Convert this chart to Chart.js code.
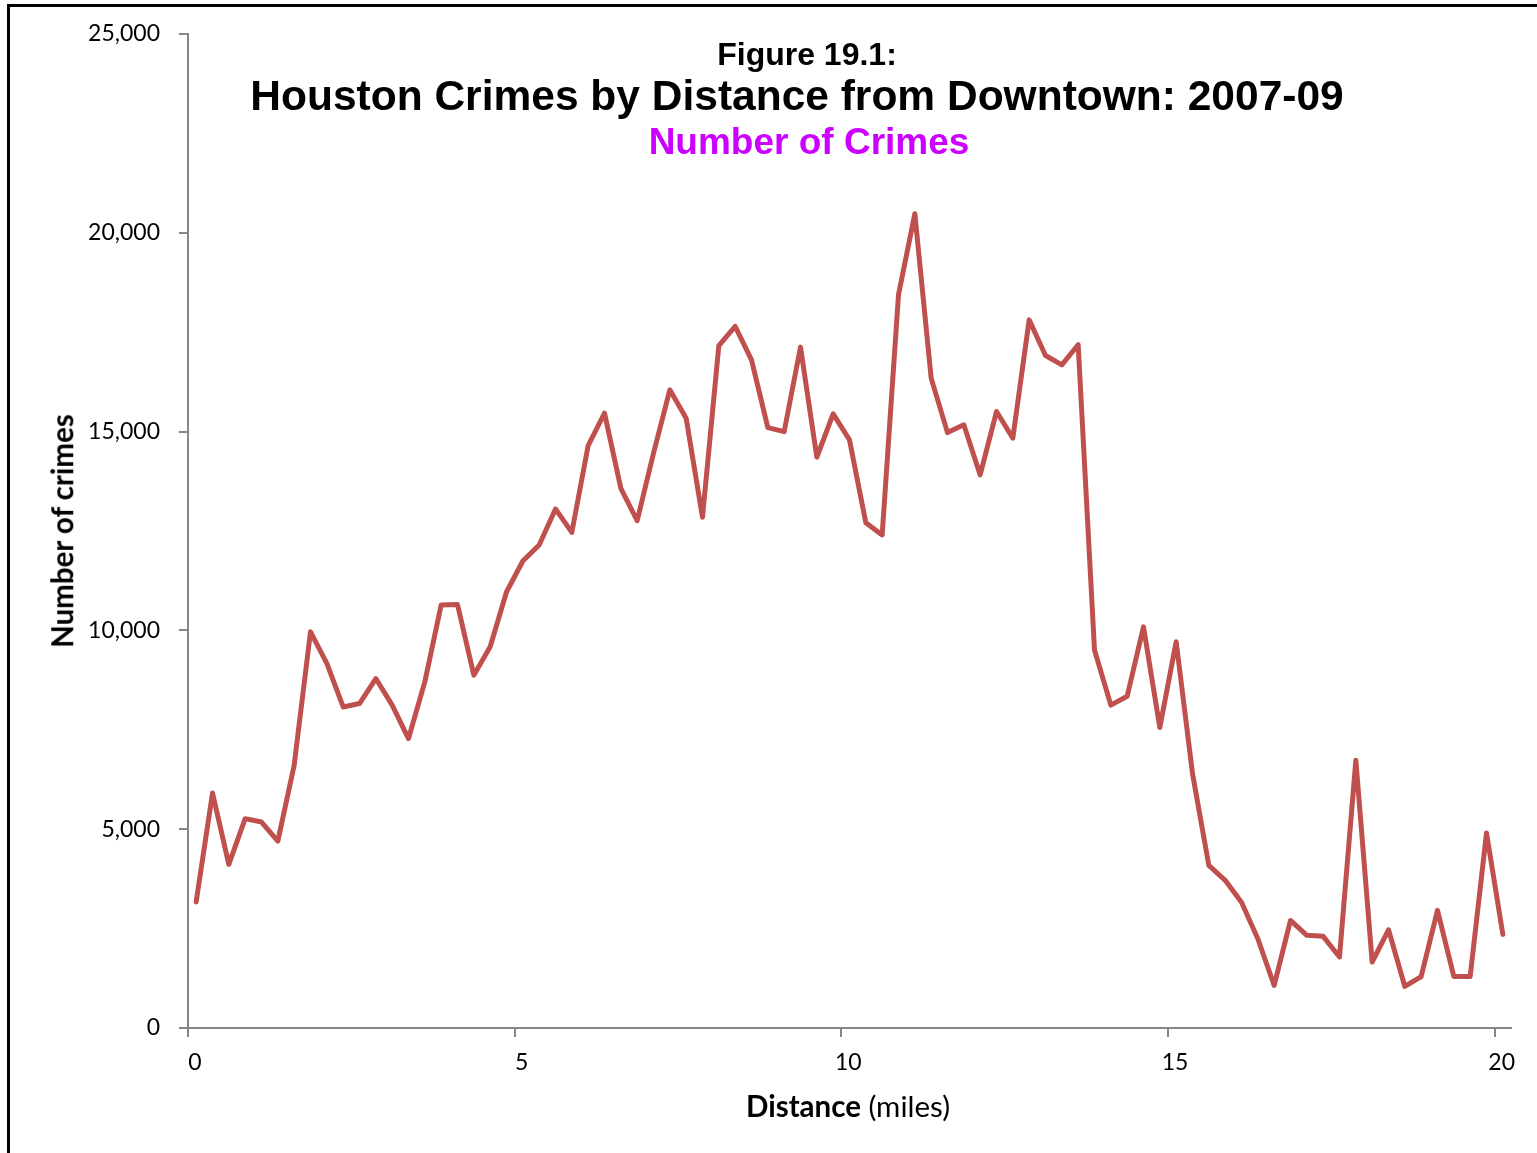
<!DOCTYPE html>
<html>
<head>
<meta charset="utf-8">
<title>Houston Crimes by Distance from Downtown</title>
<script src="https://cdn.jsdelivr.net/npm/chart.js@4.4.1/dist/chart.umd.min.js"></script>
<style>
  body { margin: 0; background: #fff; }
  .wrap { position: relative; width: 1537px; height: 1153px; overflow: hidden; }
  .frame { position: absolute; left: 7px; top: 4px; width: 1600px; height: 1200px; border: 3px solid #000; }
  canvas { position: absolute; left: 0; top: 0; }
  .lbl { position: absolute; white-space: nowrap; line-height: 1; transform: translate(-50%, -50%); }
  .ttl { font-family: "Liberation Sans", Arial, sans-serif; font-weight: bold; color: #000; }
  .axt { font-family: Lato, "Open Sans", sans-serif; font-size: 29.5px; color: #000; }
</style>
</head>
<body>
<div class="wrap">
  <div class="frame"></div>
  <canvas id="chart" width="1537" height="1153"></canvas>
  <div class="lbl ttl" style="left:807px; top:54px; font-size:32px;">Figure 19.1:</div>
  <div class="lbl ttl" style="left:797px; top:96px; font-size:42.5px;">Houston Crimes by Distance from Downtown: 2007-09</div>
  <div class="lbl ttl" style="left:809px; top:141px; font-size:37px; color:#cc00ff;">Number of Crimes</div>
  <div class="lbl axt" style="left:62px; top:531px; font-weight:bold; transform: translate(-50%, -50%) rotate(-90deg);">Number of crimes</div>
  <div class="lbl axt" style="left:848px; top:1106px;"><b>Distance</b> (miles)</div>
</div>
<script>
// distance from downtown (miles), quarter-mile bins
const distance = [
  0.125, 0.375, 0.625, 0.875, 1.125, 1.375, 1.625, 1.875,
  2.125, 2.375, 2.625, 2.875, 3.125, 3.375, 3.625, 3.875,
  4.125, 4.375, 4.625, 4.875, 5.125, 5.375, 5.625, 5.875,
  6.125, 6.375, 6.625, 6.875, 7.125, 7.375, 7.625, 7.875,
  8.125, 8.375, 8.625, 8.875, 9.125, 9.375, 9.625, 9.875,
  10.125, 10.375, 10.625, 10.875, 11.125, 11.375, 11.625, 11.875,
  12.125, 12.375, 12.625, 12.875, 13.125, 13.375, 13.625, 13.875,
  14.125, 14.375, 14.625, 14.875, 15.125, 15.375, 15.625, 15.875,
  16.125, 16.375, 16.625, 16.875, 17.125, 17.375, 17.625, 17.875,
  18.125, 18.375, 18.625, 18.875, 19.125, 19.375, 19.625, 19.875,
  20.125
];

// number of crimes in each bin
const crimes = [
  3170, 5910, 4115, 5265, 5180, 4700, 6610, 9965, 9170, 8075,
  8160, 8790, 8120, 7280, 8705, 10640, 10650, 8875, 9590, 10965,
  11745, 12150, 13055, 12465, 14650, 15465, 13575, 12760, 14455, 16050,
  15335, 12845, 17165, 17645, 16805, 15100, 15000, 17125, 14355, 15445,
  14790, 12710, 12400, 18440, 20480, 16345, 14975, 15170, 13910, 15505,
  14835, 17810, 16915, 16680, 17185, 9505, 8120, 8345, 10090, 7557,
  9715, 6400, 4090, 3715, 3165, 2245, 1070, 2705, 2330, 2305,
  1785, 6735, 1660, 2470, 1045, 1295, 2960, 1295, 1295, 4905,
  2355
];

const xTicks = [0, 5, 10, 15, 20];
const yTicks = [0, 5000, 10000, 15000, 20000, 25000];

const axisColor = '#868686';
const tickFont = { family: 'Lato, "Open Sans", sans-serif', size: 23 };

new Chart(document.getElementById('chart'), {
  type: 'line',
  data: {
    datasets: [{
      label: 'Number of crimes',
      data: distance.map((d, i) => ({ x: d, y: crimes[i] })),
      borderColor: '#c0504d',
      borderWidth: 5,
      borderJoinStyle: 'round',
      borderCapStyle: 'round',
      pointRadius: 0,
      tension: 0,
      fill: false,
    }],
  },
  options: {
    responsive: false,
    animation: false,
    layout: { padding: { left: 0, top: 34, right: 26, bottom: 65 } },
    plugins: {
      legend: { display: false },
      tooltip: { enabled: false },
    },
    scales: {
      x: {
        type: 'linear',
        min: 0,
        max: 20.25,
        afterBuildTicks: (scale) => {
          scale.ticks = xTicks.map(v => ({ value: v }));
        },
        afterFit: (scale) => { scale.height = 60; },
        grid: { drawOnChartArea: false, drawTicks: true, tickLength: 9, color: axisColor, lineWidth: 2 },
        border: { color: axisColor, width: 2 },
        ticks: { color: '#000', font: tickFont, padding: 12, labelOffset: 7, maxRotation: 0 },
      },
      y: {
        min: 0,
        max: 25000,
        afterBuildTicks: (scale) => {
          scale.ticks = yTicks.map(v => ({ value: v }));
        },
        afterFit: (scale) => { scale.width = 188; },
        grid: { drawOnChartArea: false, drawTicks: true, tickLength: 9, color: axisColor, lineWidth: 2 },
        border: { color: axisColor, width: 2 },
        ticks: {
          color: '#000',
          font: tickFont,
          padding: 19,
          callback: (v) => v.toLocaleString('en-US'),
        },
      },
    },
  },
});
</script>
</body>
</html>
